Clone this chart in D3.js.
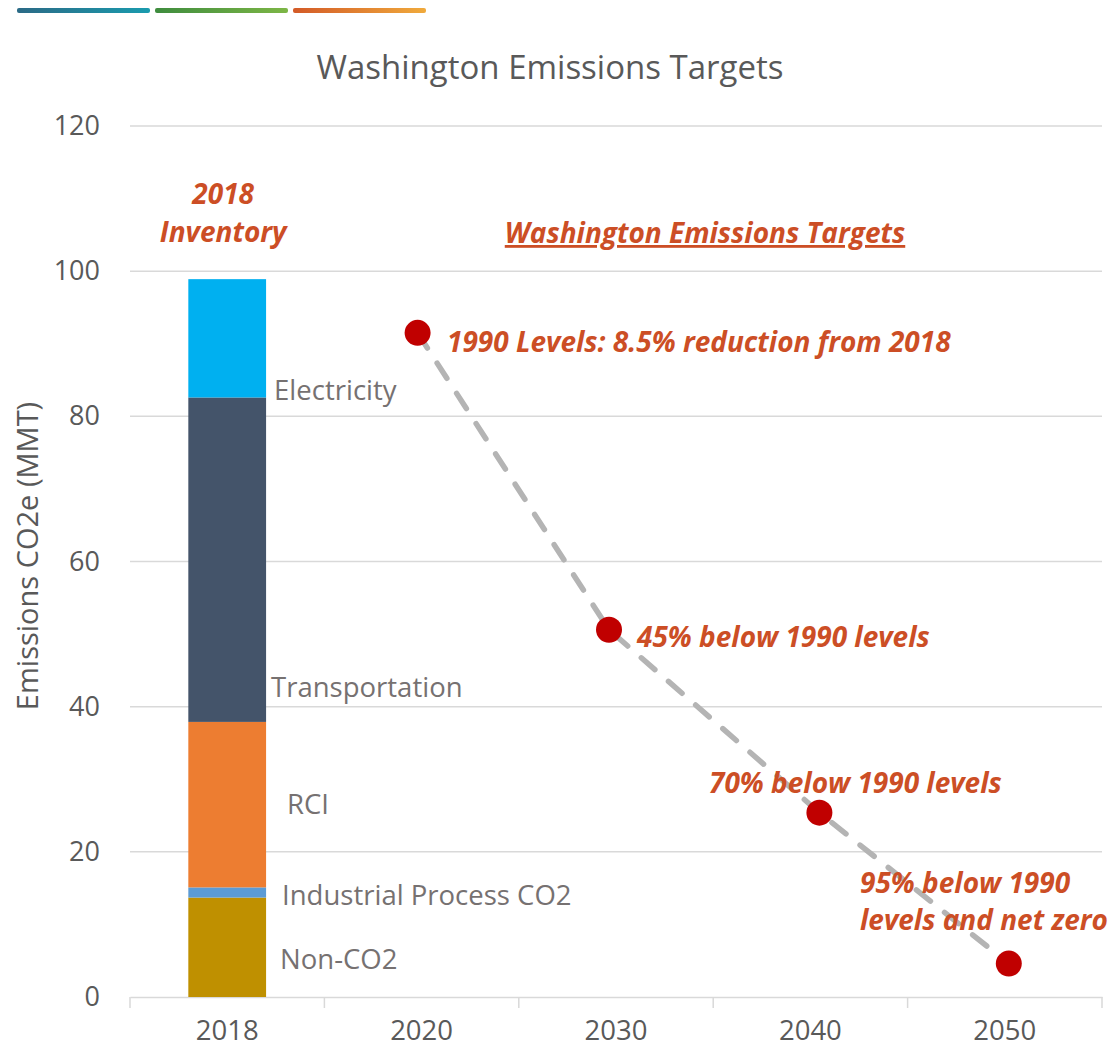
<!DOCTYPE html>
<html>
<head>
<meta charset="utf-8">
<script src="https://cdn.jsdelivr.net/npm/d3@7.9.0/dist/d3.min.js"></script>
<style>
  body { margin: 0; background: #fff; }
  svg { display: block; font-family: 'Open Sans', sans-serif; }
</style>
</head>
<body>
<svg id="chart" width="1109" height="1054"></svg>
<script>
// categories on the x axis
const categories = ['2018', '2020', '2030', '2040', '2050'];

// 2018 inventory stack (bottom to top), MMT CO2e
const sectors = ['Non-CO2', 'Industrial Process CO2', 'RCI', 'Transportation', 'Electricity'];
const sectorValues = [13.7, 1.4, 22.8, 44.7, 16.3];
const sectorColors = ['#BF9000', '#5B9BD5', '#ED7D31', '#44546A', '#00B0F0'];
// where each sector label sits (in data units)
const sectorLabelAt = [3.9, 12.7, 25.2, 41.3, 82.3];

// targets
const targetYears = ['2020', '2030', '2040', '2050'];
const targetValues = [91.5, 50.6, 25.4, 4.6];
const targetLabels = [
  ['1990 Levels: 8.5% reduction from 2018'],
  ['45% below 1990 levels'],
  ['70% below 1990 levels'],
  ['95% below 1990', 'levels and net zero']
];

const yTicks = [0, 20, 40, 60, 80, 100, 120];

const svg = d3.select('#chart');
const margin = { top: 126, right: 7, bottom: 57, left: 130 };
const W = 1109, H = 1054;

const x = d3.scaleBand().domain(categories).range([margin.left, W - margin.right]).padding(0);
const y = d3.scaleLinear().domain([0, 120]).range([H - margin.bottom, margin.top]);

// decorative header strips
const defs = svg.append('defs');
const strips = [['#2B6A86', '#1A9BAE'], ['#3E8C3E', '#7DB646'], ['#D35A27', '#F0AA3C']];
strips.forEach((c, i) => {
  const g = defs.append('linearGradient').attr('id', 'strip' + i);
  g.append('stop').attr('offset', '0%').attr('stop-color', c[0]);
  g.append('stop').attr('offset', '100%').attr('stop-color', c[1]);
  svg.append('rect')
    .attr('x', 17 + i * 138).attr('y', 8)
    .attr('width', 133).attr('height', 5).attr('rx', 2)
    .attr('fill', `url(#strip${i})`);
});

// title
svg.append('text')
  .attr('x', 550).attr('y', 79)
  .attr('text-anchor', 'middle')
  .attr('font-size', 33).attr('fill', '#595959')
  .text('Washington Emissions Targets');

// gridlines
svg.append('g')
  .selectAll('line')
  .data(yTicks.filter(d => d > 0))
  .join('line')
  .attr('x1', margin.left).attr('x2', W - margin.right)
  .attr('y1', d => y(d)).attr('y2', d => y(d))
  .attr('stroke', '#D9D9D9').attr('stroke-width', 1.5);

// y axis labels
const yAxis = svg.append('g')
  .attr('transform', `translate(${margin.left},0)`)
  .call(d3.axisLeft(y).tickValues(yTicks).tickSize(0).tickPadding(30));
yAxis.select('.domain').remove();
yAxis.selectAll('text')
  .attr('font-size', 27).attr('fill', '#595959')
  .attr('font-family', "'Open Sans', sans-serif");

svg.append('text')
  .attr('transform', `translate(38,556) rotate(-90)`)
  .attr('text-anchor', 'middle')
  .attr('font-size', 29).attr('fill', '#595959')
  .text('Emissions CO2e (MMT)');

// x axis
const xAxis = svg.append('g')
  .attr('transform', `translate(0,${y(0)})`)
  .call(d3.axisBottom(x).tickSize(0).tickPadding(23));
xAxis.select('.domain').attr('stroke', '#D9D9D9').attr('stroke-width', 1.5);
xAxis.selectAll('text')
  .attr('font-size', 27.5).attr('fill', '#595959')
  .attr('font-family', "'Open Sans', sans-serif");
svg.append('g')
  .selectAll('line')
  .data(categories.concat(['end']))
  .join('line')
  .attr('x1', (d, i) => i < categories.length ? x(d) : x.range()[1])
  .attr('x2', (d, i) => i < categories.length ? x(d) : x.range()[1])
  .attr('y1', y(0)).attr('y2', y(0) + 11)
  .attr('stroke', '#D9D9D9').attr('stroke-width', 1.5);

// stacked 2018 bar
const barW = x.bandwidth() * 0.4;
const barX = x('2018') + (x.bandwidth() - barW) / 2;
const stackRows = [Object.fromEntries(sectors.map((s, i) => [s, sectorValues[i]]))];
const series = d3.stack().keys(sectors)(stackRows);
svg.append('g')
  .selectAll('rect')
  .data(series)
  .join('rect')
  .attr('x', barX)
  .attr('width', barW)
  .attr('y', d => y(d[0][1]))
  .attr('height', d => y(d[0][0]) - y(d[0][1]))
  .attr('fill', (d, i) => sectorColors[i]);

// sector labels
const labelDx = [14, 16, 21, 5, 8];
svg.append('g')
  .selectAll('text')
  .data(sectors)
  .join('text')
  .attr('x', (d, i) => barX + barW + labelDx[i])
  .attr('y', (d, i) => y(sectorLabelAt[i]))
  .attr('font-size', 27.5).attr('fill', '#767171')
  .text(d => d);

// annotations above
const noteColor = '#CC4E25';
const inv = svg.append('text')
  .attr('text-anchor', 'middle')
  .attr('font-size', 28).attr('font-weight', 'bold').attr('font-style', 'italic')
  .attr('fill', noteColor);
inv.append('tspan').attr('x', x('2018') + x.bandwidth() / 2 - 4).attr('y', 204).text('2018');
inv.append('tspan').attr('x', x('2018') + x.bandwidth() / 2 - 4).attr('y', 242).text('Inventory');

svg.append('text')
  .attr('x', 705).attr('y', 243)
  .attr('text-anchor', 'middle')
  .attr('font-size', 28).attr('font-weight', 'bold').attr('font-style', 'italic')
  .attr('text-decoration', 'underline')
  .attr('fill', noteColor)
  .text('Washington Emissions Targets');

// target line (points sit slightly off the category centres, as in the source)
const xNudge = [-4, -7, 9, 4];
const cx = (d, i) => x(d) + x.bandwidth() / 2 + xNudge[i];
const pts = targetYears.map((yr, i) => [cx(yr, i), y(targetValues[i])]);
svg.append('path')
  .attr('d', d3.line()(pts))
  .attr('fill', 'none')
  .attr('stroke', '#B4B4B4')
  .attr('stroke-width', 5.5)
  .attr('stroke-linecap', 'round')
  .attr('stroke-dasharray', '18 18');

svg.append('g')
  .selectAll('circle')
  .data(pts)
  .join('circle')
  .attr('cx', d => d[0]).attr('cy', d => d[1]).attr('r', 13)
  .attr('fill', '#C00000');

// target labels
const tlPos = [[447, 352], [637, 647], [709, 793], [860, 893]];
svg.append('g')
  .selectAll('text')
  .data(targetLabels)
  .join('text')
  .attr('font-size', 28).attr('font-weight', 'bold').attr('font-style', 'italic')
  .attr('fill', noteColor)
  .each(function (lines, i) {
    d3.select(this).selectAll('tspan')
      .data(lines)
      .join('tspan')
      .attr('x', tlPos[i][0])
      .attr('y', (l, j) => tlPos[i][1] + j * 37)
      .text(l => l);
  });
</script>
</body>
</html>
